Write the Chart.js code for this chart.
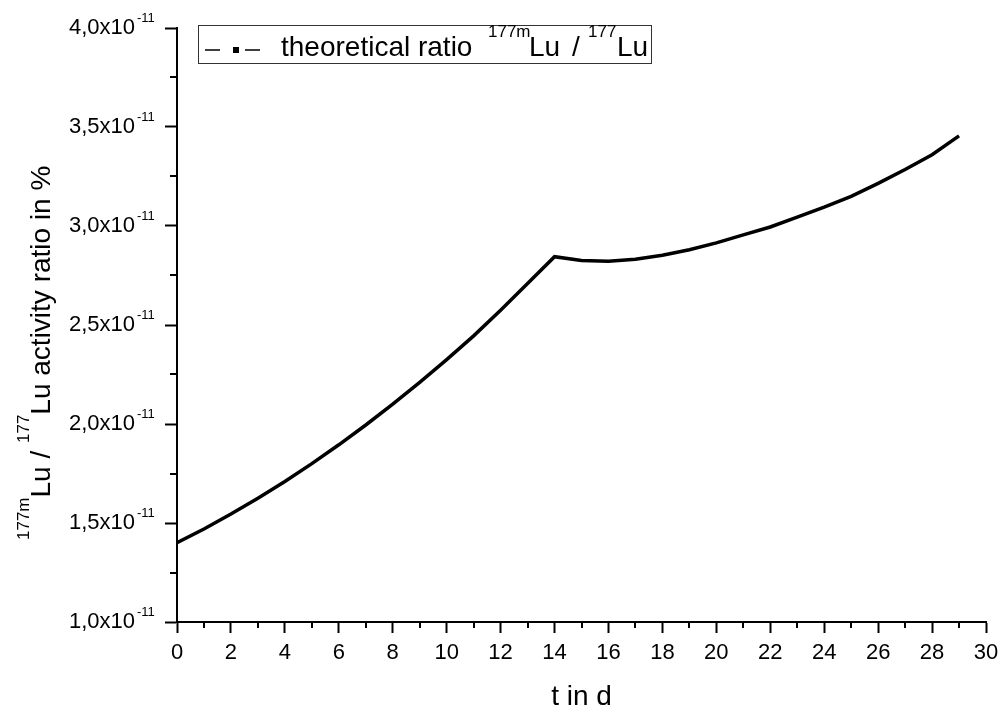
<!DOCTYPE html>
<html>
<head>
<meta charset="utf-8">
<script src="https://cdn.jsdelivr.net/npm/chart.js@4/dist/chart.umd.min.js"></script>
<style>
  html, body { margin: 0; padding: 0; background: #fff; }
  #wrap { width: 1002px; height: 708px; }
</style>
</head>
<body>
<div id="wrap"><canvas id="chart" width="1002" height="708"></canvas></div>
<script>
// time in days
const days = [0, 1, 2, 3, 4, 5, 6, 7, 8, 9, 10, 11, 12, 13, 14,
              15, 16, 17, 18, 19, 20, 21, 22, 23, 24, 25, 26, 27, 28, 29];
// 177mLu / 177Lu activity ratio
const ratio = [1.400e-11, 1.470e-11, 1.545e-11, 1.625e-11, 1.710e-11, 1.800e-11,
               1.895e-11, 1.995e-11, 2.100e-11, 2.210e-11, 2.325e-11, 2.445e-11,
               2.575e-11, 2.710e-11, 2.845e-11, 2.826e-11, 2.822e-11, 2.832e-11,
               2.852e-11, 2.880e-11, 2.915e-11, 2.955e-11, 2.995e-11, 3.045e-11,
               3.095e-11, 3.150e-11, 3.215e-11, 3.285e-11, 3.360e-11, 3.455e-11];

const xTickValues = [0, 2, 4, 6, 8, 10, 12, 14, 16, 18, 20, 22, 24, 26, 28, 30];
const yTickValues = [1.0e-11, 1.5e-11, 2.0e-11, 2.5e-11, 3.0e-11, 3.5e-11, 4.0e-11];
const yTickLabels = ['1,0', '1,5', '2,0', '2,5', '3,0', '3,5', '4,0'];
const yExponent = '-11';

const FONT = '"Liberation Sans", Arial, sans-serif';

// draw text with superscript parts, left to right from (x, y) baseline
function drawRich(ctx, parts, x, y, size, supSize, supRise) {
  parts.forEach(p => {
    if (p.at !== undefined) x = p.at;
    ctx.font = (p.sup ? supSize : size) + 'px ' + FONT;
    ctx.fillText(p.t, x, p.sup ? y - supRise : y);
    x += ctx.measureText(p.t).width;
  });
  return x;
}

const decor = {
  id: 'decor',
  afterDraw(chart) {
    const ctx = chart.ctx;
    const xs = chart.scales.x, ys = chart.scales.y, a = chart.chartArea;
    ctx.save();
    ctx.strokeStyle = '#000';
    ctx.fillStyle = '#000';
    ctx.lineWidth = 2;

    // minor ticks halfway between the major ones
    for (let i = 0; i < xs.ticks.length - 1; i++) {
      const px = Math.round(xs.getPixelForValue((xs.ticks[i].value + xs.ticks[i + 1].value) / 2));
      ctx.beginPath(); ctx.moveTo(px, a.bottom); ctx.lineTo(px, a.bottom + 6); ctx.stroke();
    }
    for (let i = 0; i < ys.ticks.length - 1; i++) {
      const py = Math.round(ys.getPixelForValue((ys.ticks[i].value + ys.ticks[i + 1].value) / 2));
      ctx.beginPath(); ctx.moveTo(a.left, py); ctx.lineTo(a.left - 7, py); ctx.stroke();
    }

    // exponent of the y tick labels
    ctx.textAlign = 'left';
    ctx.textBaseline = 'alphabetic';
    ctx.font = '13px ' + FONT;
    ys.ticks.forEach(t => {
      const py = ys.getPixelForValue(t.value);
      ctx.fillText(yExponent, a.left - 40, py - 6);
    });

    // y axis title
    ctx.save();
    ctx.translate(50, 540);
    ctx.rotate(-Math.PI / 2);
    drawRich(ctx, [
      { t: '177m', sup: true }, { t: 'Lu / ' },
      { t: '177', sup: true }, { t: 'Lu activity ratio in %' }
    ], 0, 0, 28, 17, 21);
    ctx.restore();

    // legend
    ctx.lineWidth = 1;
    ctx.strokeStyle = '#333';
    ctx.strokeRect(198.5, 25.5, 453, 38);
    ctx.strokeStyle = '#000';
    ctx.lineWidth = 1.5;
    ctx.beginPath();
    ctx.moveTo(205, 50); ctx.lineTo(220, 50);
    ctx.moveTo(245, 50); ctx.lineTo(260, 50);
    ctx.stroke();
    ctx.fillRect(233, 47, 6, 6);
    drawRich(ctx, [
      { t: 'theoretical ratio' }, { t: '177m', sup: true, at: 488 }, { t: 'Lu', at: 529 },
      { t: '/', at: 572 }, { t: '177', sup: true, at: 588 }, { t: 'Lu', at: 617 }
    ], 281, 56, 28, 17, 19);
    ctx.restore();
  }
};

new Chart(document.getElementById('chart'), {
  type: 'line',
  data: {
    datasets: [{
      label: 'theoretical ratio',
      data: days.map((d, i) => ({ x: d, y: ratio[i] })),
      borderColor: '#000',
      borderWidth: 3.5,
      pointRadius: 0,
      fill: false,
      tension: 0
    }]
  },
  options: {
    responsive: false,
    devicePixelRatio: 1,
    animation: false,
    layout: { padding: { left: 0, top: 28, right: 16, bottom: 0 } },
    plugins: { legend: { display: false }, tooltip: { enabled: false } },
    scales: {
      x: {
        type: 'linear',
        min: 0, max: 30,
        afterBuildTicks: s => { s.ticks = xTickValues.map(v => ({ value: v })); },
        afterFit: s => { s.height = 86; s.paddingLeft = 0; s.paddingRight = 0; },
        grid: { drawOnChartArea: false, tickLength: 11, tickWidth: 2, tickColor: '#000' },
        border: { display: true, color: '#000', width: 2 },
        ticks: { color: '#000', font: { family: FONT, size: 22 }, padding: 7, maxRotation: 0 },
        title: { display: true, text: 't in d', color: '#000',
                 font: { family: FONT, size: 28, lineHeight: 0.75 }, padding: 0 }
      },
      y: {
        type: 'linear',
        min: 1e-11, max: 4e-11,
        afterBuildTicks: s => { s.ticks = yTickValues.map(v => ({ value: v })); },
        afterFit: s => { s.width = 177; s.paddingTop = 0; s.paddingBottom = 0; },
        grid: { drawOnChartArea: false, tickLength: 12, tickWidth: 2, tickColor: '#000' },
        border: { display: true, color: '#000', width: 2 },
        ticks: { color: '#000', font: { family: FONT, size: 22 }, padding: 30,
                 callback: (v, i) => yTickLabels[i] + 'x10' }
      }
    }
  },
  plugins: [decor]
});
</script>
</body>
</html>
